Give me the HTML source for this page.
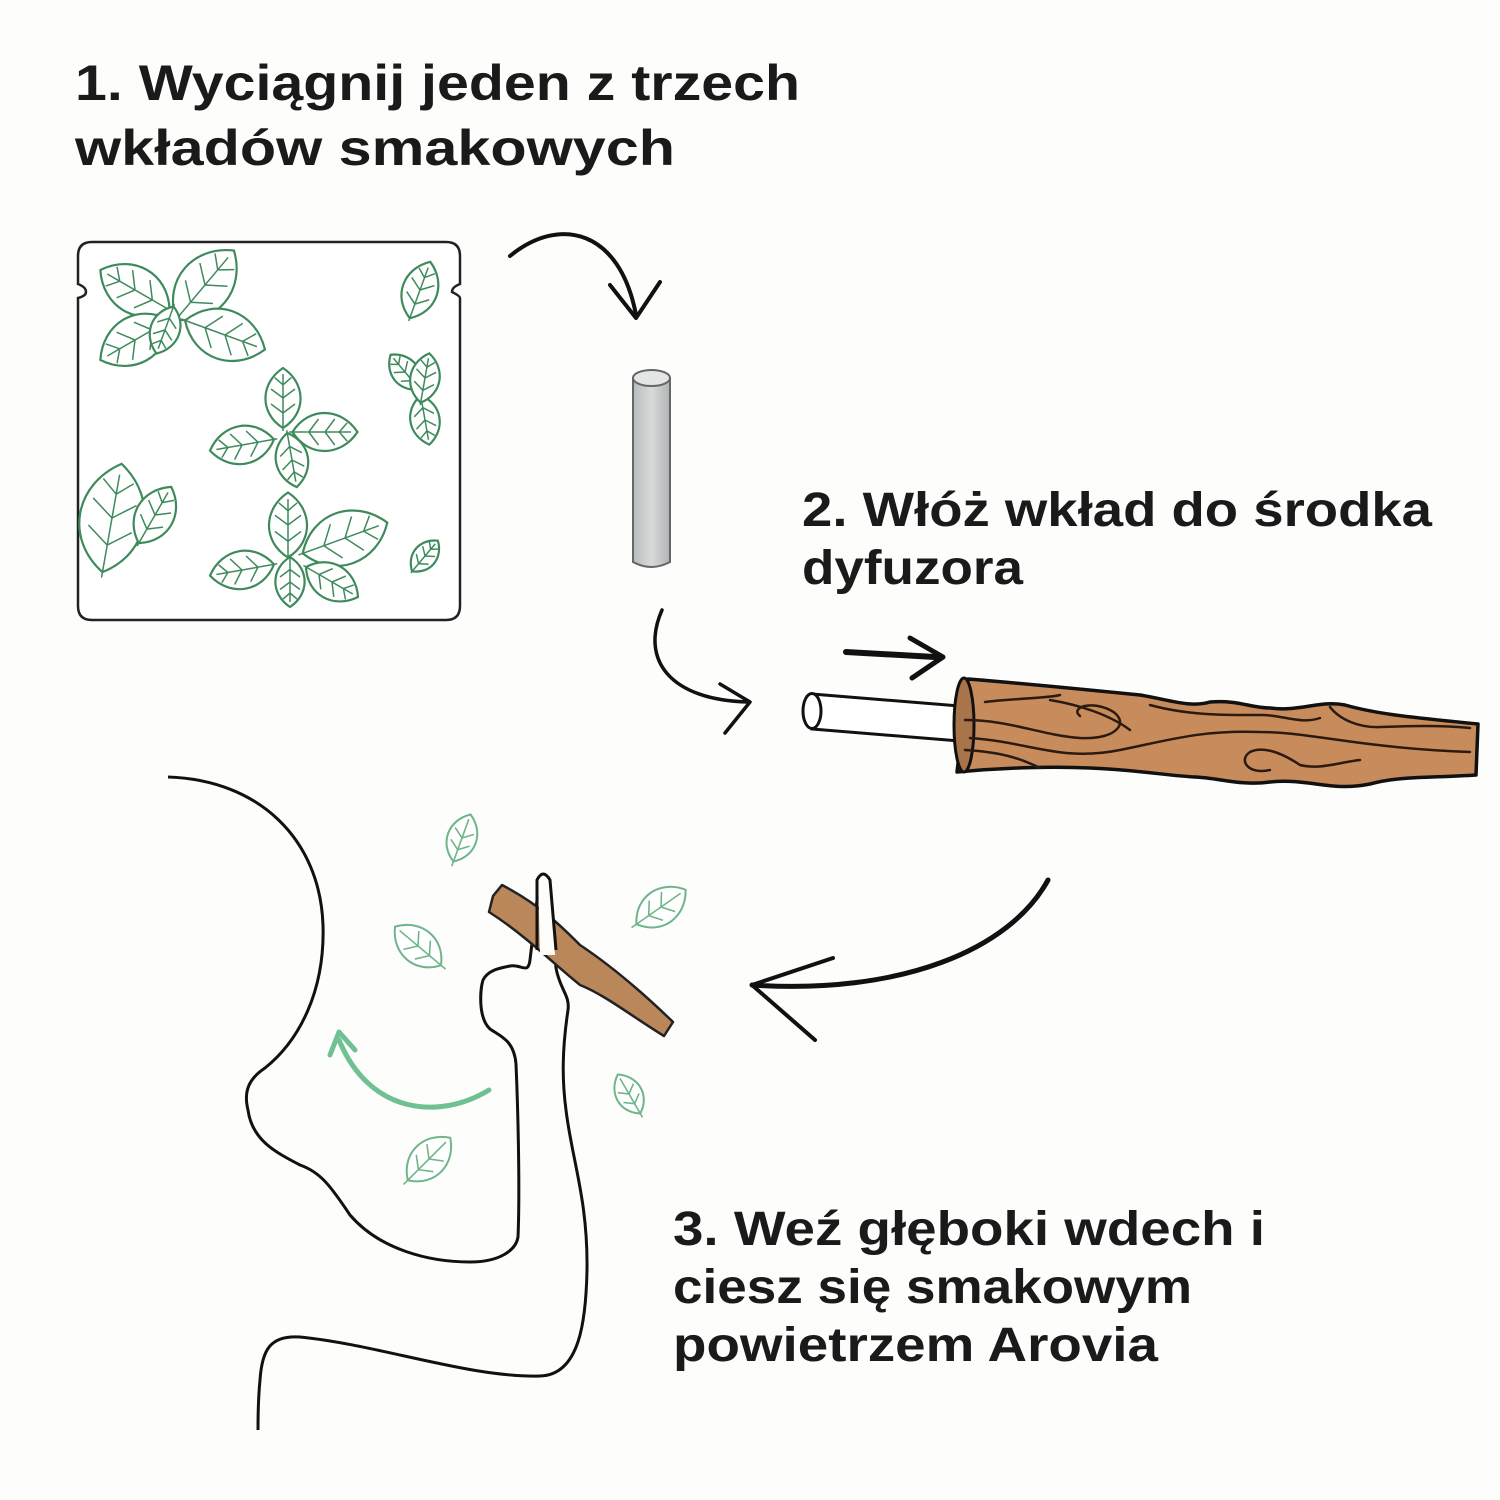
<!DOCTYPE html>
<html><head><meta charset="utf-8"><style>
html,body{margin:0;padding:0;background:#fdfdfb;}
svg{display:block}
text{font-family:"Liberation Sans",sans-serif;font-weight:bold;fill:#1a1a1a;}
</style></head><body>
<svg width="1500" height="1500" viewBox="0 0 1500 1500" xmlns="http://www.w3.org/2000/svg">
<defs>
<g id="lf">
<path d="M0,50 C-40,25 -38,-25 0,-50 C38,-25 40,25 0,50 Z" fill="#fff" stroke="#3f8a5c" stroke-width="2.2" vector-effect="non-scaling-stroke"/>
<path d="M0,55 L0,-40 M0,25 L-20,10 M0,25 L20,10 M0,0 L-20,-15 M0,0 L20,-15 M0,-22 L-14,-34 M0,-22 L14,-34" fill="none" stroke="#3f8a5c" stroke-width="1.5" vector-effect="non-scaling-stroke"/>
</g>
<g id="lf2">
<path d="M0,50 C-40,25 -38,-25 0,-50 C38,-25 40,25 0,50 Z" fill="#fff" stroke="#6fb58a" stroke-width="2" vector-effect="non-scaling-stroke"/>
<path d="M0,60 L0,-40 M0,25 L-20,10 M0,25 L20,10 M0,0 L-20,-15 M0,0 L20,-15" fill="none" stroke="#6fb58a" stroke-width="1.6" vector-effect="non-scaling-stroke"/>
</g>
</defs>

<text x="75" y="100" font-size="50" textLength="725" lengthAdjust="spacingAndGlyphs">1. Wyciągnij jeden z trzech</text>
<text x="75" y="165" font-size="50" textLength="600" lengthAdjust="spacingAndGlyphs">wkładów smakowych</text>

<!-- packet -->
<path d="M92,242 L446,242 Q460,242 460,256 L460,284 Q452,287 452,292 Q460,296 460,298 L460,606 Q460,620 446,620 L92,620 Q78,620 78,606 L78,298 Q86,296 86,292 Q86,287 78,284 L78,256 Q78,242 92,242 Z" fill="#fff" stroke="#222" stroke-width="2.5"/>
<use href="#lf" transform="translate(135,290) rotate(-60) scale(0.8)"/>
<use href="#lf" transform="translate(205,285) rotate(40) scale(0.9)"/>
<use href="#lf" transform="translate(135,340) rotate(-120) scale(0.8)"/>
<use href="#lf" transform="translate(225,335) rotate(110) scale(0.85)"/>
<use href="#lf" transform="translate(165,330) rotate(200) scale(0.5)"/>
<use href="#lf" transform="translate(420,290) rotate(20) scale(0.6)"/>
<use href="#lf" transform="translate(405,372) rotate(-40) scale(0.45)"/>
<use href="#lf" transform="translate(425,420) rotate(170) scale(0.5)"/>
<use href="#lf" transform="translate(425,378) rotate(10) scale(0.5)"/>
<use href="#lf" transform="translate(283,398) rotate(0) scale(0.6)"/>
<use href="#lf" transform="translate(242,445) rotate(-100) scale(0.65)"/>
<use href="#lf" transform="translate(325,432) rotate(90) scale(0.65)"/>
<use href="#lf" transform="translate(292,460) rotate(170) scale(0.55)"/>
<use href="#lf" transform="translate(112,518) rotate(10) scale(1.1)"/>
<use href="#lf" transform="translate(155,515) rotate(30) scale(0.65)"/>
<use href="#lf" transform="translate(288,525) rotate(0) scale(0.65)"/>
<use href="#lf" transform="translate(242,570) rotate(-100) scale(0.65)"/>
<use href="#lf" transform="translate(345,538) rotate(70) scale(0.9)"/>
<use href="#lf" transform="translate(332,582) rotate(120) scale(0.6)"/>
<use href="#lf" transform="translate(290,582) rotate(180) scale(0.5)"/>
<use href="#lf" transform="translate(425,556) rotate(40) scale(0.4)"/>

<!-- arrow 1 -->
<path d="M510,256 C560,215 620,230 636,315" fill="none" stroke="#111" stroke-width="4" stroke-linecap="round"/>
<path d="M610,285 L636,318 L660,282" fill="none" stroke="#111" stroke-width="4" stroke-linecap="round" stroke-linejoin="round"/>

<!-- tube -->
<defs><linearGradient id="tg" x1="0" x2="1"><stop offset="0" stop-color="#b8bcbc"/><stop offset="0.5" stop-color="#d8dada"/><stop offset="1" stop-color="#b0b4b4"/></linearGradient></defs>
<path d="M633,378 L633,562 Q651,572 670,562 L670,378 Z" fill="url(#tg)" stroke="#666" stroke-width="2"/>
<ellipse cx="651.5" cy="378" rx="18.5" ry="8" fill="#e4e6e6" stroke="#666" stroke-width="2"/>

<text x="802" y="526" font-size="48" textLength="630" lengthAdjust="spacingAndGlyphs">2. Włóż wkład do środka</text>
<text x="802" y="584" font-size="48" textLength="221" lengthAdjust="spacingAndGlyphs">dyfuzora</text>

<!-- arrow 2 -->
<path d="M662,610 C640,660 670,700 748,702" fill="none" stroke="#111" stroke-width="3.5" stroke-linecap="round"/>
<path d="M720,684 L750,702 L725,733" fill="none" stroke="#111" stroke-width="3.5" stroke-linecap="round" stroke-linejoin="round"/>
<path d="M846,652 L935,657" stroke="#111" stroke-width="6" stroke-linecap="round"/>
<path d="M910,638 L943,657 L912,678" fill="none" stroke="#111" stroke-width="5" stroke-linecap="round" stroke-linejoin="round"/>

<!-- white tube + wood -->
<path d="M812,694 L972,707 L972,742 L812,729 Z" fill="#fff" stroke="#111" stroke-width="3"/>
<ellipse cx="812" cy="711" rx="9" ry="17.5" fill="#fff" stroke="#111" stroke-width="3"/>
<path d="M968,679 C1030,684 1090,690 1140,695 C1170,700 1190,708 1210,702 C1240,700 1250,708 1270,708 C1300,712 1320,700 1345,705 C1380,715 1420,718 1478,724 L1476,775 C1430,778 1400,776 1370,784 C1330,792 1310,778 1270,782 C1240,786 1220,778 1195,777 C1160,775 1140,770 1090,768 C1050,766 1000,768 957,772 Z" fill="#c88c5c" stroke="#111" stroke-width="3.5" stroke-linejoin="round"/>
<ellipse cx="964" cy="725" rx="10" ry="47" fill="#a8744a" stroke="#111" stroke-width="3"/>
<g fill="none" stroke="#2a1a10" stroke-width="2.5" stroke-linecap="round">
<path d="M985,702 C1020,698 1050,698 1060,695"/>
<path d="M965,720 C1010,720 1040,735 1080,738 C1120,740 1130,720 1110,710 C1090,700 1070,708 1080,716"/>
<path d="M970,738 C1030,742 1060,762 1120,750 C1170,740 1200,730 1260,732 C1310,732 1360,748 1470,752"/>
<path d="M1050,700 C1080,705 1110,715 1130,730"/>
<path d="M1150,705 C1190,716 1230,715 1260,715 C1280,714 1300,725 1320,718"/>
<path d="M1330,707 C1340,720 1360,728 1380,727 C1410,726 1440,725 1470,728"/>
<path d="M965,750 C1000,752 1020,758 1040,768"/>
<path d="M1270,770 C1248,775 1238,760 1250,752 C1265,745 1285,755 1300,765 C1320,770 1340,762 1360,760"/>
</g>

<!-- big arrow 3 -->
<path d="M1048,880 C1010,950 900,995 752,985" fill="none" stroke="#111" stroke-width="5" stroke-linecap="round"/>
<path d="M833,958 L752,985 L815,1040" fill="none" stroke="#111" stroke-width="4" stroke-linecap="round" stroke-linejoin="round"/>

<!-- face -->
<path d="M168,777 C260,780 320,840 323,925 C325,990 300,1040 265,1068 C250,1078 243,1090 248,1110 C252,1140 275,1152 300,1165 C320,1172 330,1185 350,1215 C380,1250 430,1262 470,1262 C500,1262 516,1250 518,1237 C520,1190 518,1110 516,1064 C514,1040 500,1036 490,1029 C478,1018 480,990 483,980 C488,970 500,968 510,966 C522,964 528,975 530,960 L537,900 Q542,890 550,899 L556,968 C560,990 570,995 568,1010 C562,1050 562,1080 566,1110 C572,1160 588,1200 587,1270 C586,1320 580,1375 540,1376 C470,1378 380,1345 300,1337 C270,1335 262,1350 260,1380 C258,1400 258,1420 258,1430" fill="none" stroke="#111" stroke-width="3"/>
<!-- small stick -->
<path d="M493,896 L502,885 C540,905 560,925 580,945 C610,965 640,990 673,1022 L664,1036 C630,1015 605,995 580,985 C555,965 525,935 489,912 Z" fill="#b9875a" stroke="#222" stroke-width="2.5" stroke-linejoin="round"/>
<path d="M538,875 Q544,868 550,875 L555,955 L540,955 Z" fill="#fdfdfb" stroke="none"/>
<path d="M537,950 L537,880 Q543,868 550,880 L556,950" fill="none" stroke="#111" stroke-width="3"/>

<!-- leaves around -->
<use href="#lf2" transform="translate(462,838) rotate(20) scale(0.5)"/>
<use href="#lf2" transform="translate(418,946) rotate(-50) scale(0.6)"/>
<use href="#lf2" transform="translate(661,907) rotate(55) scale(0.6)"/>
<use href="#lf2" transform="translate(629,1094) rotate(-30) scale(0.45)"/>
<use href="#lf2" transform="translate(429,1159) rotate(45) scale(0.6)"/>
<!-- green arrow -->
<path d="M489,1090 C440,1120 370,1115 339,1040" fill="none" stroke="#6fc193" stroke-width="5" stroke-linecap="round"/>
<path d="M330,1055 L339,1032 L355,1050" fill="none" stroke="#6fc193" stroke-width="5" stroke-linecap="round" stroke-linejoin="round"/>

<text x="673" y="1245" font-size="48" textLength="592" lengthAdjust="spacingAndGlyphs">3. Weź głęboki wdech i</text>
<text x="673" y="1303" font-size="48" textLength="519" lengthAdjust="spacingAndGlyphs">ciesz się smakowym</text>
<text x="673" y="1361" font-size="48" textLength="485" lengthAdjust="spacingAndGlyphs">powietrzem Arovia</text>
</svg>
</body></html>
